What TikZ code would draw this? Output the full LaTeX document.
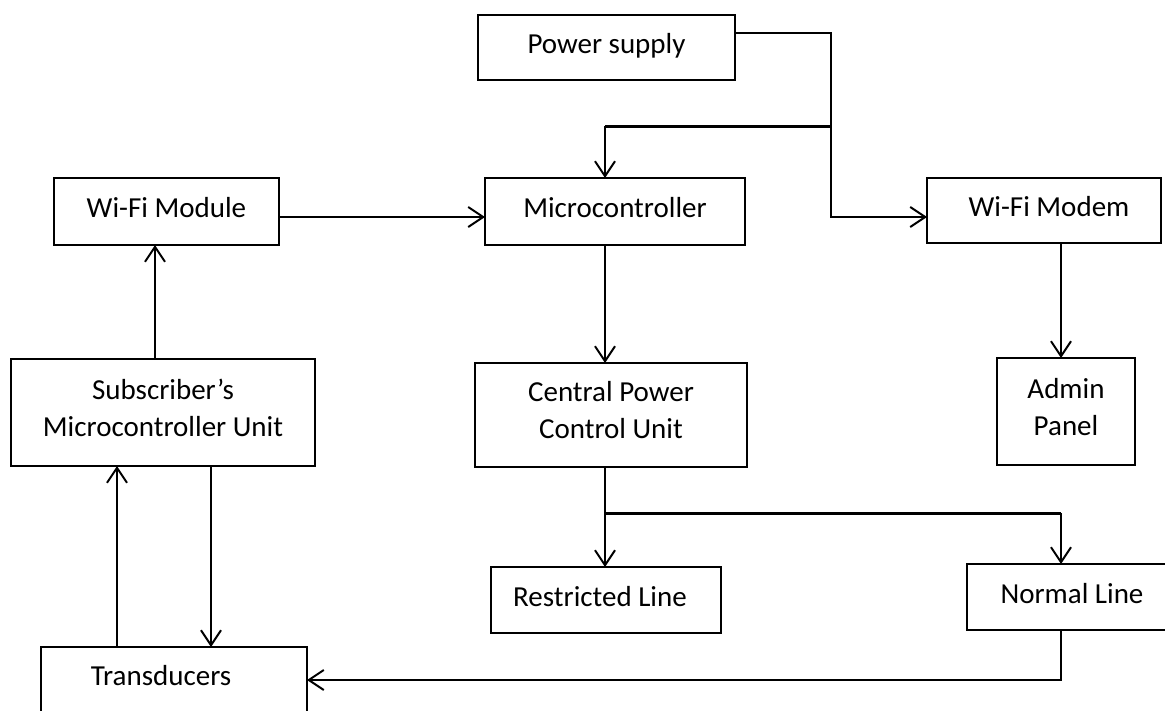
\documentclass[tikz,border=0pt]{standalone}
\usepackage{fontspec}
\setmainfont{Carlito}
\usetikzlibrary{arrows.meta}
\newcommand{\lowstrut}{\rule[-10pt]{0pt}{10pt}}
\begin{document}
\begin{tikzpicture}[x=1pt,y=-1pt,
  >={Straight Barb[length=15pt,width=20pt]},
  every node/.style={font=\fontsize{29}{37}\selectfont},
  blk/.style={draw,line width=2pt,inner sep=0pt,outer sep=0pt,anchor=north west,align=center},
  one/.style={blk,text height=18.7pt,text depth=6pt},
  conn/.style={line width=2pt},
  bar/.style={line width=3pt}]
\useasboundingbox (0,0) rectangle (1165,710);
\clip (0,0) rectangle (1165,710);
% boxes
\node[one,minimum width=257pt,minimum height=65pt] (ps) at (478,15) {Power supply};
\node[one,minimum width=260pt,minimum height=67pt] (mc) at (485,178) {Microcontroller};
\node[one,minimum width=225pt,minimum height=67pt] (wm) at (54,178) {Wi-Fi Module};
\node[one,minimum width=234pt,minimum height=65pt] (mo) at (927,178) {\hspace{10pt}Wi-Fi Modem};
\node[blk,minimum width=304pt,minimum height=107pt] (su) at (11,359) {Subscriber’s\\Microcontroller Unit\lowstrut};
\node[blk,minimum width=272pt,minimum height=104pt] (cp) at (475,363) {Central Power\\Control Unit\lowstrut};
\node[blk,minimum width=138pt,minimum height=107pt] (ad) at (997,358) {Admin\\Panel\lowstrut};
\node[one,minimum width=230pt,minimum height=66pt] (rl) at (491,567) {Restricted Line\hspace{12pt}};
\node[one,minimum width=210pt,minimum height=66pt] (nl) at (967,564) {Normal Line};
\node[one,text depth=32.7pt,minimum width=266pt,minimum height=90pt] (tr) at (41,647) {Transducers\hspace{26pt}};
% junction coordinates
\coordinate (j1) at (831,217);
\coordinate (j2) at (831,126);
\coordinate (b1) at (605,126);
\coordinate (xr) at (1061,513);
\coordinate (j3) at (1061,680);
\coordinate (xl) at (155,300);
\coordinate (xu) at (117,600);
\coordinate (xd) at (211,600);
% connectors
\draw[conn,->] ([yshift=14.5pt]ps.east) -| (j1) -- (mo.west |- j1);
\draw[bar] (j2) -- (b1);
\draw[conn,->] (b1) -- (b1 |- mc.north);
\draw[conn,->] ([yshift=-5.5pt]wm.east) -- ([yshift=-5.5pt]mc.west);
\draw[conn,->] (b1 |- mc.south) -- (b1 |- cp.north);
\draw[conn,->] (xr |- mo.south) -- (xr |- ad.north);
\draw[conn,->] (b1 |- cp.south) -- (b1 |- rl.north);
\draw[bar] (b1 |- xr) -- (xr);
\draw[conn,->] (xr) -- (xr |- nl.north);
\draw[conn,->] (xl |- su.north) -- (xl |- wm.south);
\draw[conn,->] (xu |- tr.north) -- (xu |- su.south);
\draw[conn,->] (xd |- su.south) -- (xd |- tr.north);
\draw[conn,->] (xr |- nl.south) -- (j3) -- (tr.east |- j3);
\end{tikzpicture}
\end{document}
